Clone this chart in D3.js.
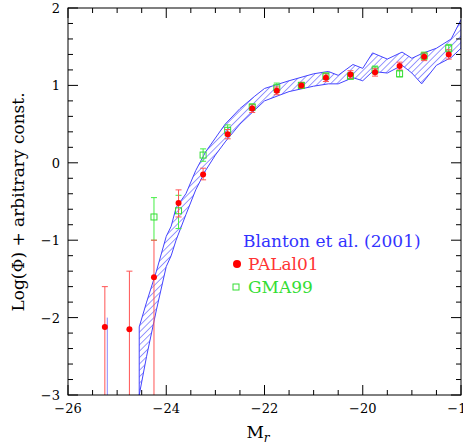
<!DOCTYPE html>
<html><head><meta charset="utf-8">
<script src="https://cdn.jsdelivr.net/npm/d3@7"></script>
<style>body{margin:0;background:#fff}text{font-family:"DejaVu Serif",serif}</style>
</head><body><svg id="c" width="463" height="447"></svg>
<script>
const bandM = [-24.55,-24.4,-24.2,-24.0,-23.9,-23.8,-23.6,-23.4,-23.2,-23.0,-22.8,-22.5,-22.2,-22.0,-21.5,-21.0,-20.7,-20.5,-20.2,-20.0,-19.8,-19.5,-19.2,-19.0,-18.8,-18.5,-18.2,-18.0];
const bandHi = [-2.12,-1.8,-1.4,-0.95,-0.82,-0.58,-0.4,-0.1,0.14,0.32,0.5,0.7,0.86,0.96,1.06,1.15,1.18,1.13,1.27,1.22,1.42,1.34,1.43,1.35,1.41,1.48,1.6,1.85];
const bandLo = [-3.0,-2.5,-1.9,-1.34,-1.2,-1.0,-0.67,-0.35,-0.1,0.1,0.27,0.5,0.68,0.8,0.92,0.99,1.02,1.02,1.1,1.06,1.18,1.16,1.26,1.16,1.02,1.26,1.36,1.48];
const palM = [-25.25,-24.75,-24.25,-23.75,-23.25,-22.75,-22.25,-21.75,-21.25,-20.75,-20.25,-19.75,-19.25,-18.75,-18.25];
const palV = [-2.12,-2.15,-1.48,-0.52,-0.15,0.37,0.7,0.93,1.0,1.1,1.14,1.17,1.25,1.37,1.4];
const palHi = [-1.6,-1.4,-1.0,-0.35,-0.07,0.43,0.75,0.98,1.04,1.15,1.19,1.22,1.3,1.42,1.46];
const palLo = [-3.0,-3.0,-3.0,-0.7,-0.22,0.31,0.65,0.88,0.96,1.05,1.09,1.12,1.2,1.32,1.34];
const gmaM = [-24.25,-23.75,-23.25,-22.75,-22.25,-21.75,-21.25,-20.75,-20.25,-19.75,-19.25,-18.75,-18.25];
const gmaV = [-0.7,-0.62,0.1,0.42,0.72,0.97,1.0,1.12,1.12,1.2,1.15,1.38,1.48];
const gmaHi = [-0.45,-0.42,0.18,0.49,0.76,1.03,1.03,1.16,1.16,1.25,1.19,1.43,1.53];
const gmaLo = [-1.0,-0.85,0.02,0.35,0.68,0.91,0.97,1.08,1.08,1.15,1.11,1.33,1.43];

const svg = d3.select("#c");
const x = d3.scaleLinear().domain([-26,-18]).range([68,461]);
const y = d3.scaleLinear().domain([-3,2]).range([395,8]);

const defs = svg.append("defs");
defs.append("clipPath").attr("id","clip").append("rect").attr("x",68).attr("y",8).attr("width",393).attr("height",387);
const pat = defs.append("pattern").attr("id","hatch").attr("patternUnits","userSpaceOnUse")
  .attr("width",4.5).attr("height",4.5).attr("patternTransform","rotate(45)");
pat.append("line").attr("x1",0).attr("y1",0).attr("x2",0).attr("y2",4.5).attr("stroke","#3333ff").attr("stroke-width",1);

const g = svg.append("g").attr("clip-path","url(#clip)");
const band = bandM.map((m,i)=>({m,hi:bandHi[i],lo:bandLo[i]}));
g.append("path").datum(band)
  .attr("d", d3.area().x(d=>x(d.m)).y0(d=>y(d.lo)).y1(d=>y(d.hi)))
  .attr("fill","url(#hatch)").attr("stroke","#4444ff").attr("stroke-width",1);
g.append("line").attr("x1",x(-25.2)).attr("x2",x(-25.2)).attr("y1",y(-2)).attr("y2",y(-3)).attr("stroke","#8888ff");

function errs(M,V,Hi,Lo,col){
  M.forEach((m,i)=>{
    const xx=x(m);
    g.append("line").attr("x1",xx).attr("x2",xx).attr("y1",y(Hi[i])).attr("y2",y(Lo[i])).attr("stroke",col);
    [Hi[i],Lo[i]].forEach(v=>{ if(v>-3) g.append("line").attr("x1",xx-3).attr("x2",xx+3).attr("y1",y(v)).attr("y2",y(v)).attr("stroke",col);});
  });
}
errs(gmaM,gmaV,gmaHi,gmaLo,"#44ee44");
errs(palM,palV,palHi,palLo,"#ff5555");
gmaM.forEach((m,i)=>g.append("rect").attr("x",x(m)-3).attr("y",y(gmaV[i])-3).attr("width",6).attr("height",6).attr("fill","none").attr("stroke","#33dd33"));
palM.forEach((m,i)=>g.append("circle").attr("cx",x(m)).attr("cy",y(palV[i])).attr("r",3).attr("fill","#ff0000"));

// frame and ticks
svg.append("rect").attr("x",68).attr("y",8).attr("width",393).attr("height",387).attr("fill","none").attr("stroke","#000");
const ax = svg.append("g").attr("stroke","#000");
d3.range(-26,-17.9,0.5).forEach(v=>{
  const L = Math.abs(v%2)<1e-6?10:5;
  ax.append("line").attr("x1",x(v)).attr("x2",x(v)).attr("y1",395).attr("y2",395-L);
  ax.append("line").attr("x1",x(v)).attr("x2",x(v)).attr("y1",8).attr("y2",8+L);
});
d3.range(-3,2.01,0.2).forEach(v=>{
  const L = Math.abs(v-Math.round(v))<1e-6?10:5;
  ax.append("line").attr("x1",68).attr("x2",68+L).attr("y1",y(v)).attr("y2",y(v));
  ax.append("line").attr("x1",461).attr("x2",461-L).attr("y1",y(v)).attr("y2",y(v));
});
[-26,-24,-22,-20,-18].forEach(v=>svg.append("text").attr("x",x(v)).attr("y",413).attr("text-anchor","middle").attr("font-size",13).text("\u2212"+Math.abs(v)));
[-3,-2,-1,0,1,2].forEach(v=>svg.append("text").attr("x",60).attr("y",y(v)+5).attr("text-anchor","end").attr("font-size",13).text(v<0?"\u2212"+Math.abs(v):v));
const xl = svg.append("text").attr("x",258).attr("y",438).attr("text-anchor","middle").attr("font-size",17);
xl.append("tspan").text("M");
xl.append("tspan").attr("font-size",12).attr("dy",4).attr("font-style","italic").text("r");
svg.append("text").attr("transform","translate(24,202) rotate(-90)").attr("text-anchor","middle").attr("font-size",17).text("Log(\u03a6) + arbitrary const.");

// legend
svg.append("text").attr("x",243).attr("y",247).attr("font-size",17).attr("fill","#3333ff").text("Blanton et al. (2001)");
svg.append("circle").attr("cx",237).attr("cy",264).attr("r",4).attr("fill","#ff0000");
svg.append("text").attr("x",248).attr("y",270).attr("font-size",17).attr("fill","#ff3333").text("PALal01");
svg.append("rect").attr("x",233).attr("y",284).attr("width",6).attr("height",6).attr("fill","none").attr("stroke","#33dd33");
svg.append("text").attr("x",248).attr("y",293).attr("font-size",17).attr("fill","#33dd33").text("GMA99");
</script></body></html>
